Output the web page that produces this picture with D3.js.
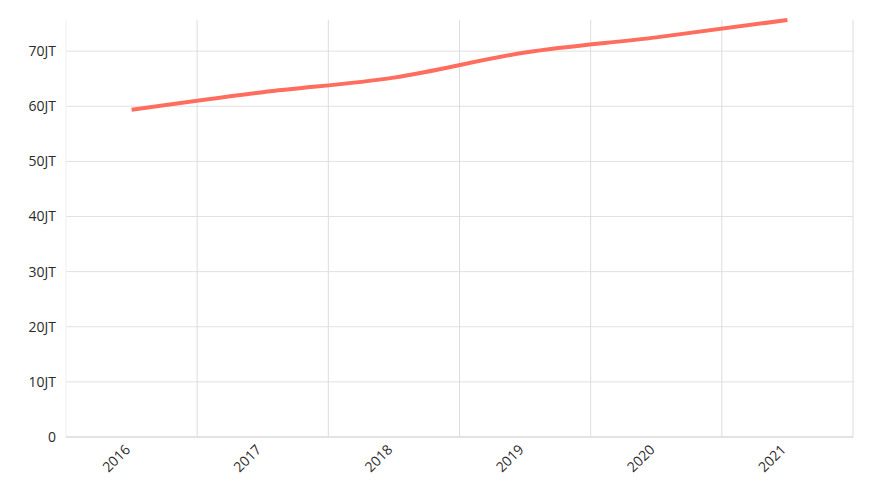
<!DOCTYPE html>
<html><head><meta charset="utf-8">
<script src="https://cdn.jsdelivr.net/npm/d3@7"></script>
<style>body{margin:0;background:#fff;} text{font-family:"Open Sans","Noto Sans",sans-serif;}</style>
</head><body><svg id="c" width="873" height="500"></svg>
<script>
const years = ["2016","2017","2018","2019","2020","2021"];
const values = [59.35e6, 62.55e6, 65.2e6, 69.75e6, 72.5e6, 75.65e6];
const yTicks = [0,10e6,20e6,30e6,40e6,50e6,60e6,70e6];

const svg = d3.select("#c");
const m = {l:66, r:20, t:20, b:63};
const W = 873, H = 500;
const x = d3.scaleBand().domain(years).range([m.l, W-m.r]);
const y = d3.scaleLinear().domain([0, d3.max(values)]).range([H-m.b, m.t]);

// horizontal grid
svg.append("g").selectAll("line").data(yTicks).join("line")
  .attr("x1", m.l).attr("x2", W-m.r)
  .attr("y1", d=>y(d)).attr("y2", d=>y(d))
  .attr("stroke", "#e1e1e1").attr("stroke-width", 1);
// vertical grid at band boundaries
svg.append("g").selectAll("line").data(years).join("line")
  .attr("x1", d=>x(d)+x.bandwidth()).attr("x2", d=>x(d)+x.bandwidth())
  .attr("y1", m.t).attr("y2", H-m.b)
  .attr("stroke", "#dcdcdc").attr("stroke-width", 1);
// left axis line
svg.append("line").attr("x1", m.l).attr("x2", m.l).attr("y1", m.t).attr("y2", H-m.b)
  .attr("stroke", "#efefef");
// bottom axis line
svg.append("line").attr("x1", m.l).attr("x2", W-m.r).attr("y1", H-m.b).attr("y2", H-m.b)
  .attr("stroke", "#d6d6d6");

// y labels
const fmt = d => d === 0 ? "0" : (d/1e6) + "JT";
svg.append("g").selectAll("text").data(yTicks).join("text")
  .attr("x", m.l-10).attr("y", d=>y(d)).attr("dy", "0.35em")
  .attr("text-anchor", "end").attr("font-size", 14).attr("fill", "#2b2b2b")
  .text(fmt);

// x labels
svg.append("g").selectAll("text").data(years).join("text")
  .attr("transform", d=>`translate(${x(d)+x.bandwidth()/2-4},${H-m.b+10}) rotate(-45)`)
  .attr("text-anchor", "end").attr("dy", "0.35em").attr("font-size", 14).attr("fill", "#2b2b2b")
  .text(d=>d);

// line
const line = d3.line().curve(d3.curveMonotoneX)
  .x((d,i)=>x(years[i])+x.bandwidth()/2).y(d=>y(d));
svg.append("path").datum(values).attr("d", line)
  .attr("fill", "none").attr("stroke", "#ff6d5e").attr("stroke-width", 4)
  .attr("stroke-linejoin", "round");
</script></body></html>
